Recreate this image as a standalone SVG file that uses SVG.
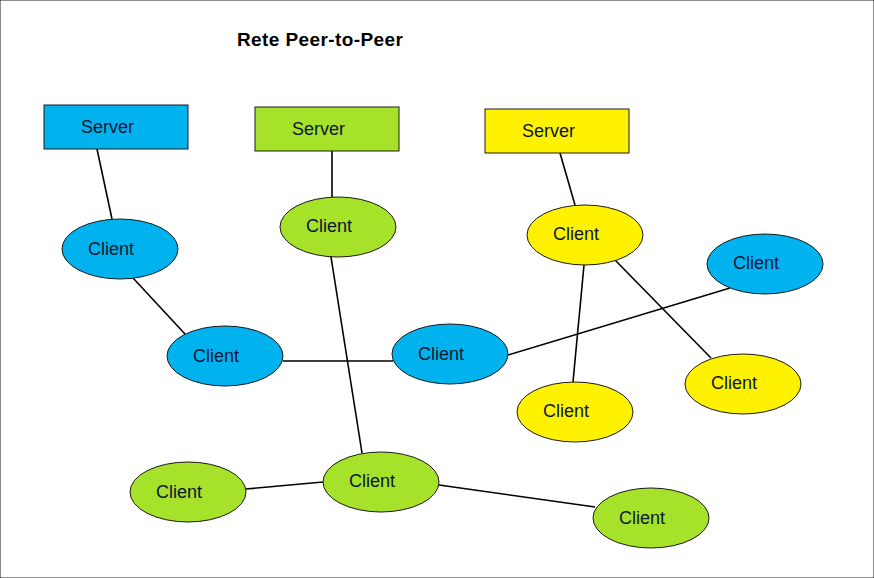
<svg xmlns="http://www.w3.org/2000/svg" width="874" height="578" viewBox="0 0 874 578">
<style>
text{font-family:"Liberation Sans",Arial,sans-serif;font-size:18px;fill:#0b1636}
.t{font-weight:bold;fill:#000;font-size:19px;letter-spacing:0.4px}
.b{fill:#00b2ee}
.g{fill:#a6e22a}
.y{fill:#fff200}
rect,ellipse{stroke:#1a1a1a;stroke-width:1}
#connectors line{stroke:#000;stroke-width:1.6}
</style>
<rect width="874" height="578" fill="#fff"/>
<text class="t" x="237" y="46">Rete Peer-to-Peer</text>
<g id="connectors">
<line x1="97" y1="149" x2="112" y2="219"/>
<line x1="332" y1="151" x2="332" y2="197"/>
<line x1="560" y1="153" x2="575" y2="205"/>
<line x1="133" y1="278" x2="185" y2="334"/>
<line x1="283" y1="361" x2="393" y2="361"/>
<line x1="508" y1="355" x2="730" y2="288"/>
<line x1="331" y1="257" x2="362" y2="453"/>
<line x1="584" y1="265" x2="573" y2="382"/>
<line x1="615" y1="260" x2="711" y2="358"/>
<line x1="246" y1="489" x2="323" y2="482"/>
<line x1="439" y1="485" x2="595" y2="507"/>
</g>
<g id="server-blue"><rect class="b" x="44" y="105" width="144" height="44"/><text x="81" y="133">Server</text></g>
<g id="server-green"><rect class="g" x="255" y="107" width="144" height="44"/><text x="292" y="135">Server</text></g>
<g id="server-yellow"><rect class="y" x="485" y="109" width="144" height="44"/><text x="522" y="137">Server</text></g>
<g id="client-b1"><ellipse class="b" cx="120" cy="249" rx="58" ry="30"/><text x="88" y="255">Client</text></g>
<g id="client-g1"><ellipse class="g" cx="338" cy="227" rx="58" ry="30"/><text x="306" y="232">Client</text></g>
<g id="client-y1"><ellipse class="y" cx="585" cy="235" rx="58" ry="30"/><text x="553" y="240">Client</text></g>
<g id="client-b4"><ellipse class="b" cx="765" cy="264" rx="58" ry="30"/><text x="733" y="269">Client</text></g>
<g id="client-b2"><ellipse class="b" cx="225" cy="356" rx="58" ry="30"/><text x="193" y="362">Client</text></g>
<g id="client-b3"><ellipse class="b" cx="450" cy="354" rx="58" ry="30"/><text x="418" y="360">Client</text></g>
<g id="client-y2"><ellipse class="y" cx="575" cy="412" rx="58" ry="30"/><text x="543" y="417">Client</text></g>
<g id="client-y3"><ellipse class="y" cx="743" cy="384" rx="58" ry="30"/><text x="711" y="389">Client</text></g>
<g id="client-g2"><ellipse class="g" cx="188" cy="492" rx="58" ry="30"/><text x="156" y="498">Client</text></g>
<g id="client-g3"><ellipse class="g" cx="381" cy="482" rx="58" ry="30"/><text x="349" y="487">Client</text></g>
<g id="client-g4"><ellipse class="g" cx="651" cy="518" rx="58" ry="30"/><text x="619" y="524">Client</text></g>
</svg>
